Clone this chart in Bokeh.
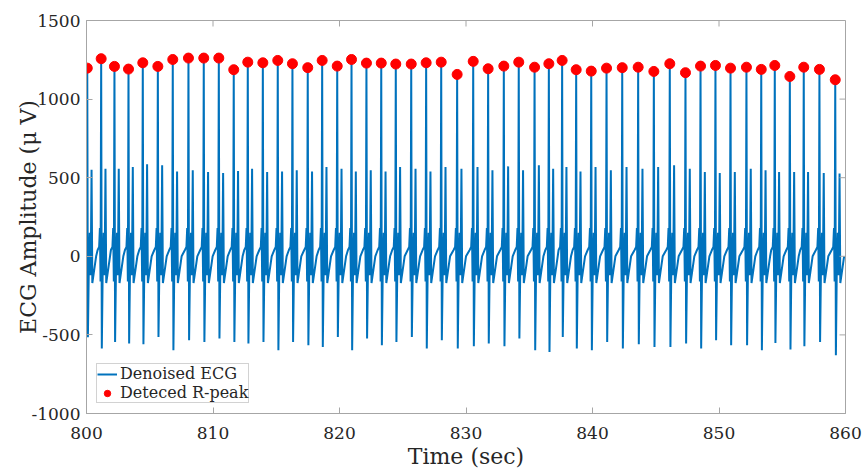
import numpy as np
from bokeh.plotting import figure
from bokeh.models import FixedTicker, Legend, LegendItem, Range1d
from bokeh.embed import file_html
from bokeh.resources import INLINE

# R-peak times (s) and amplitudes (uV)
r_time = [800.06, 801.16, 802.21, 803.32, 804.45, 805.64, 806.82, 808.06, 809.27, 810.46,
          811.64, 812.75, 813.94, 815.12, 816.28, 817.49, 818.63, 819.82, 820.95, 822.13,
          823.30, 824.45, 825.67, 826.85, 828.04, 829.30, 830.57, 831.75, 832.99, 834.17,
          835.42, 836.55, 837.60, 838.71, 839.90, 841.11, 842.35, 843.61, 844.85, 846.11,
          847.35, 848.54, 849.72, 850.91, 852.17, 853.34, 854.41, 855.60, 856.70, 857.94,
          859.19]
r_amp = [1197, 1257, 1208, 1191, 1231, 1208, 1252, 1261, 1261, 1261,
         1187, 1235, 1231, 1246, 1225, 1200, 1246, 1210, 1252, 1229,
         1229, 1223, 1223, 1231, 1235, 1157, 1240, 1193, 1210, 1235,
         1203, 1225, 1246, 1187, 1178, 1197, 1200, 1203, 1176, 1225,
         1168, 1210, 1214, 1197, 1203, 1189, 1214, 1144, 1203, 1189,
         1123]
# S-trough depth after each R peak
s_amp = [-515, -587, -545, -555, -560, -513, -598, -534, -545, -523,
         -545, -555, -545, -598, -545, -566, -577, -513, -598, -523,
         -566, -545, -513, -587, -534, -587, -572, -555, -572, -523,
         -598, -608, -513, -587, -598, -545, -587, -560, -577, -577,
         -555, -587, -534, -566, -566, -598, -551, -593, -572, -545,
         -629]
# secondary spike height after each beat
sec_amp = [550, 557, 557, 568, 585, 579, 540, 547, 536, 530,
           542, 557, 536, 540, 547, 540, 568, 557, 540, 547,
           540, 568, 557, 540, 568, 557, 568, 547, 572, 547,
           579, 557, 568, 540, 568, 547, 568, 557, 568, 579,
           557, 536, 530, 536, 557, 547, 536, 536, 536, 530,
           527]
# one-beat waveform: time offset from R (s), level (uV)
beat_offsets = [-0.28, -0.16, -0.10, -0.05, 0.0, 0.05, 0.12, 0.20, 0.27, 0.34, 0.40, 0.70]
beat_levels = [40, 60, 180, -160, "R", "S", -90, 150, -120, "T", -170, 0]

x_ticks = [800, 810, 820, 830, 840, 850, 860]
y_ticks = [-1000, -500, 0, 500, 1000, 1500]
y_tick_labels = {-1000: "-1000", -500: "-500", 0: "0", 500: "500", 1000: "1000", 1500: "1500"}

t_sig, v_sig = [], []
for tr, ra, sa, ta in zip(r_time, r_amp, s_amp, sec_amp):
    for off, lev in zip(beat_offsets, beat_levels):
        t_sig.append(tr + off)
        if lev == "R":
            v_sig.append(ra)
        elif lev == "S":
            v_sig.append(sa)
        elif lev == "T":
            v_sig.append(ta)
        else:
            v_sig.append(lev)

FONT = "DejaVu Serif"
AX = "#a6a6a6"
TXT = "#262626"

X0, X1, Y0, Y1 = 800, 860, -1000, 1500
p = figure(width=864, height=472,
           x_range=Range1d(X0, X1), y_range=Range1d(Y0, Y1),
           output_backend="svg", toolbar_location=None,
           min_border_left=86, min_border_right=19, min_border_top=20, min_border_bottom=59)
p.xgrid.visible = False
p.ygrid.visible = False
p.outline_line_color = AX
p.background_fill_color = "white"

line = p.line(t_sig, v_sig, line_color="#0072BD", line_width=2)
dots = p.scatter(r_time, r_amp, size=10, fill_color="#FF0000", line_color="#FF0000")

# inward tick marks on the top and right edges of the box (6 px long)
tick_len_y = 6 * (Y1 - Y0) / 393.0
tick_len_x = 6 * (X1 - X0) / 759.0
p.segment(x0=x_ticks, y0=[Y1] * len(x_ticks), x1=x_ticks, y1=[Y1 - tick_len_y] * len(x_ticks),
          line_color=AX, line_width=1)
p.segment(x0=[X1] * len(y_ticks), y0=y_ticks, x1=[X1 - tick_len_x] * len(y_ticks), y1=y_ticks,
          line_color=AX, line_width=1)

for ax in (p.xaxis[0], p.yaxis[0]):
    ax.major_label_text_font = FONT
    ax.major_label_text_font_size = "17px"
    ax.major_label_text_color = TXT
    ax.axis_label_text_font = FONT
    ax.axis_label_text_font_size = "22px"
    ax.axis_label_text_font_style = "normal"
    ax.axis_label_text_color = TXT
    ax.major_tick_in = 6
    ax.major_tick_out = 0
    ax.minor_tick_line_color = None
    ax.axis_line_color = AX
    ax.major_tick_line_color = AX

p.xaxis[0].ticker = FixedTicker(ticks=x_ticks)
p.yaxis[0].ticker = FixedTicker(ticks=y_ticks)
p.yaxis[0].major_label_overrides = y_tick_labels
p.xaxis[0].axis_label = "Time (sec)"
p.yaxis[0].axis_label = "ECG Amplitude (μ V)"
p.xaxis[0].major_label_standoff = 13
p.xaxis[0].axis_label_standoff = 2
p.yaxis[0].major_label_standoff = 6
p.yaxis[0].axis_label_standoff = -13

legend = Legend(items=[LegendItem(label="Denoised ECG", renderers=[line]),
                       LegendItem(label="Deteced R-peak", renderers=[dots])],
                location="bottom_left", margin=10, padding=0, spacing=0,
                glyph_width=20, glyph_height=16, label_height=16, label_standoff=3,
                label_text_font=FONT, label_text_font_size="16px", label_text_color=TXT,
                border_line_color=AX, border_line_width=1, background_fill_alpha=1.0)
p.add_layout(legend)

open("out.html", "w").write(file_html(p, INLINE))
